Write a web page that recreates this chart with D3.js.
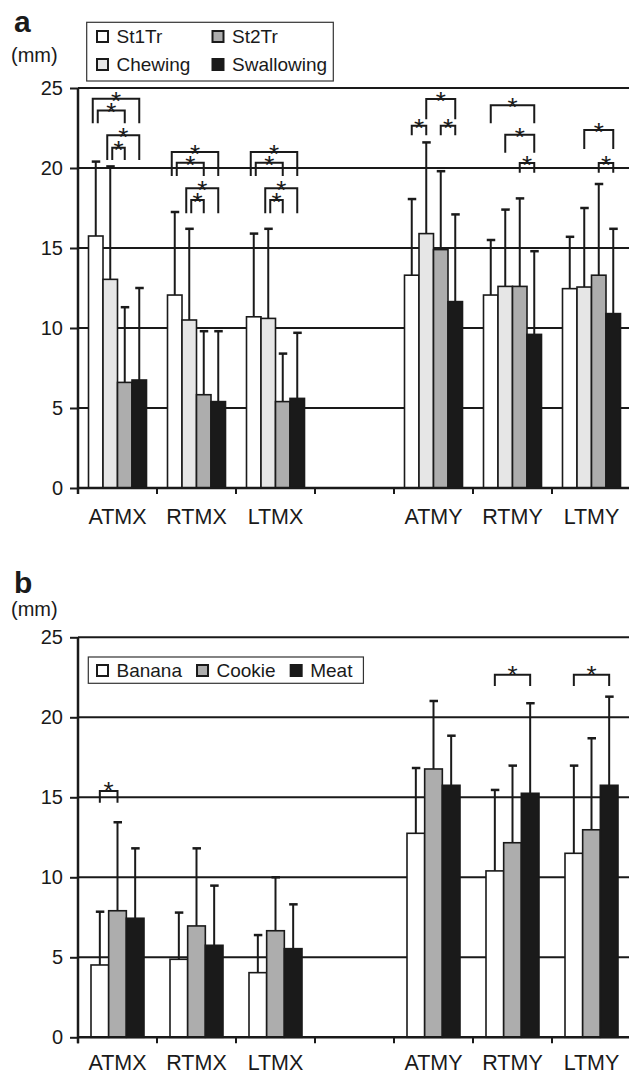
<!DOCTYPE html>
<html>
<head>
<meta charset="utf-8">
<script src="https://cdnjs.cloudflare.com/ajax/libs/d3/7.8.5/d3.min.js"></script>
<style>
  body { margin: 0; background: #fff; }
  svg text { font-family: "Liberation Sans", Arial, sans-serif; fill: #1a1a1a; }
</style>
</head>
<body>
<script>
// ---- data: panel a (stages) ----
const groups = ["ATMX", "RTMX", "LTMX", "", "ATMY", "RTMY", "LTMY"];
const stages = ["St1Tr", "Chewing", "St2Tr", "Swallowing"];
const st1TrMean = [15.75, 12.06, 10.7, null, 13.3, 12.06, 12.46];
const st1TrSd = [4.65, 5.19, 5.2, null, 4.76, 3.44, 3.24];
const chewingMean = [13.04, 10.5, 10.6, null, 15.9, 12.6, 12.56];
const chewingSd = [7.06, 5.7, 5.6, null, 5.7, 4.8, 4.94];
const st2TrMean = [6.6, 5.83, 5.4, null, 14.9, 12.6, 13.3];
const st2TrSd = [4.7, 3.97, 3.0, null, 4.9, 5.5, 5.7];
const swallowingMean = [6.75, 5.4, 5.6, null, 11.65, 9.6, 10.9];
const swallowingSd = [5.75, 4.4, 4.1, null, 5.45, 5.2, 5.3];
// significance: [group, from, to, bracket level, leg end] (mm)
const sigA = [
  ["ATMX", "St1Tr", "Swallowing", 24.33, 22.8],
  ["ATMX", "St1Tr", "St2Tr", 23.6, 22.8],
  ["ATMX", "Chewing", "Swallowing", 22.04, 20.5],
  ["ATMX", "Chewing", "St2Tr", 21.27, 20.5],
  ["RTMX", "St1Tr", "Swallowing", 21.0, 19.5],
  ["RTMX", "St1Tr", "St2Tr", 20.33, 19.5],
  ["RTMX", "Chewing", "Swallowing", 18.73, 17.17],
  ["RTMX", "Chewing", "St2Tr", 18.0, 17.17],
  ["LTMX", "St1Tr", "Swallowing", 21.0, 19.5],
  ["LTMX", "St1Tr", "St2Tr", 20.33, 19.5],
  ["LTMX", "Chewing", "Swallowing", 18.73, 17.17],
  ["LTMX", "Chewing", "St2Tr", 18.0, 17.17],
  ["ATMY", "Chewing", "Swallowing", 24.31, 23.04],
  ["ATMY", "St1Tr", "Chewing", 22.64, 22.04],
  ["ATMY", "St2Tr", "Swallowing", 22.64, 22.04],
  ["RTMY", "St1Tr", "Swallowing", 23.92, 22.8],
  ["RTMY", "Chewing", "Swallowing", 22.08, 20.96],
  ["RTMY", "St2Tr", "Swallowing", 20.31, 19.7],
  ["LTMY", "Chewing", "Swallowing", 22.375, 21.19],
  ["LTMY", "St2Tr", "Swallowing", 20.31, 19.7]
];

// ---- data: panel b (foods) ----
const foods = ["Banana", "Cookie", "Meat"];
const bananaMean = [4.52, 4.875, 4.04, null, 12.75, 10.4, 11.5];
const bananaSd = [3.33, 2.92, 2.35, null, 4.08, 5.06, 5.48];
const cookieMean = [7.91, 6.96, 6.66, null, 16.77, 12.16, 12.97];
const cookieSd = [5.53, 4.85, 3.34, null, 4.25, 4.82, 5.72];
const meatMean = [7.44, 5.75, 5.54, null, 15.75, 15.25, 15.75];
const meatSd = [4.37, 3.73, 2.77, null, 3.1, 5.63, 5.54];
const sigB = [
  ["ATMX", "Banana", "Cookie", 15.39, 14.66],
  ["RTMY", "Banana", "Meat", 22.66, 21.96],
  ["LTMY", "Banana", "Meat", 22.66, 21.96]
];

const yTicks = [0, 5, 10, 15, 20, 25];

const svg = d3.select("body").append("svg")
  .attr("width", 629)
  .attr("height", 1075);

function drawPanel(p) {
  const g = svg.append("g");
  const left = 78, right = 631;

  const y = d3.scaleLinear().domain([0, 25]).range([p.zeroY, p.zeroY - 400]);
  const x0 = d3.scaleBand().domain(groups).range([left, right]);
  const x1 = d3.scaleBand().domain(p.series).range([p.pad, x0.bandwidth() - p.pad]);
  const color = d3.scaleOrdinal().domain(p.series).range(p.colors);
  const cx = (grp, s) => x0(grp) + x1(s) + x1.bandwidth() / 2;

  // panel letter and unit
  g.append("text").attr("x", 14).attr("y", p.letterY)
    .attr("font-size", 30).attr("font-weight", "bold").text(p.letter);
  g.append("text").attr("x", 11).attr("y", p.unitY)
    .attr("font-size", 20).text("(mm)");

  // gridlines
  g.selectAll(".grid").data(yTicks.filter(d => d > 0)).enter().append("line")
    .attr("x1", left).attr("x2", 629)
    .attr("y1", d => y(d)).attr("y2", d => y(d))
    .attr("stroke", "#1a1a1a").attr("stroke-width", 2);

  // y axis
  const yAxis = g.append("g").attr("transform", `translate(${left},0)`)
    .call(d3.axisLeft(y).tickValues(yTicks).tickSize(8).tickPadding(7));
  yAxis.select(".domain").remove();
  yAxis.selectAll("line").attr("stroke", "#1a1a1a").attr("stroke-width", 2);
  yAxis.selectAll("text").attr("font-size", 20).attr("fill", "#1a1a1a")
    .style("font-family", "'Liberation Sans', Arial, sans-serif");
  g.append("line").attr("x1", left).attr("x2", left)
    .attr("y1", y(25)).attr("y2", y(0) + 6)
    .attr("stroke", "#1a1a1a").attr("stroke-width", 2.5);

  // rows of values
  const rows = [];
  p.series.forEach((s, si) => {
    groups.forEach((grp, gi) => {
      if (p.means[si][gi] != null) rows.push({ grp, s, mean: p.means[si][gi], sd: p.sds[si][gi] });
    });
  });

  // error bars
  const err = g.append("g");
  err.selectAll("line.whisker").data(rows).enter().append("line")
    .attr("class", "whisker")
    .attr("x1", d => cx(d.grp, d.s)).attr("x2", d => cx(d.grp, d.s))
    .attr("y1", d => y(d.mean)).attr("y2", d => y(d.mean + d.sd))
    .attr("stroke", "#1a1a1a").attr("stroke-width", 2);
  err.selectAll("line.cap").data(rows).enter().append("line")
    .attr("class", "cap")
    .attr("x1", d => cx(d.grp, d.s) - 4).attr("x2", d => cx(d.grp, d.s) + 4.5)
    .attr("y1", d => y(d.mean + d.sd)).attr("y2", d => y(d.mean + d.sd))
    .attr("stroke", "#1a1a1a").attr("stroke-width", 2.5);

  // bars
  g.selectAll("rect.bar").data(rows).enter().append("rect")
    .attr("class", "bar")
    .attr("x", d => x0(d.grp) + x1(d.s))
    .attr("y", d => y(d.mean))
    .attr("width", x1.bandwidth())
    .attr("height", d => y(0) - y(d.mean))
    .attr("fill", d => color(d.s))
    .attr("stroke", "#1a1a1a").attr("stroke-width", 1.6);

  // x axis
  g.append("line").attr("x1", left).attr("x2", 629)
    .attr("y1", y(0)).attr("y2", y(0))
    .attr("stroke", "#1a1a1a").attr("stroke-width", 2.5);
  const bounds = groups.map(d => x0(d)).concat([right]);
  g.selectAll(".xtick").data(bounds).enter().append("line")
    .attr("x1", d => d).attr("x2", d => d)
    .attr("y1", y(0)).attr("y2", y(0) + 6)
    .attr("stroke", "#1a1a1a").attr("stroke-width", 2);
  g.selectAll(".xlab").data(groups.filter(d => d)).enter().append("text")
    .attr("x", d => x0(d) + x0.bandwidth() / 2)
    .attr("y", y(0) + p.labelOffset)
    .attr("text-anchor", "middle")
    .attr("font-size", 21.5)
    .text(d => d);

  // significance brackets
  const sig = p.sig.map(([grp, a, b, level, leg]) => ({ grp, a, b, level, leg }));
  sig.forEach(d => {
    const shared = sig.filter(o => o !== d && o.grp === d.grp && o.a === d.a);
    let dx = 0;
    if (shared.length) {
      const span = p.series.indexOf(d.b);
      dx = shared.some(o => p.series.indexOf(o.b) > span) ? 2 : -3;
    }
    d.xa = cx(d.grp, d.a) + dx;
    d.xb = cx(d.grp, d.b);
  });
  g.selectAll("path.sig").data(sig).enter().append("path")
    .attr("class", "sig")
    .attr("d", d => `M${d.xa},${y(d.leg)}V${y(d.level)}H${d.xb}V${y(d.leg)}`)
    .attr("fill", "none").attr("stroke", "#1a1a1a").attr("stroke-width", 2);
  g.selectAll("text.star").data(sig).enter().append("text")
    .attr("class", "star")
    .attr("x", d => (d.xa + d.xb) / 2)
    .attr("y", d => y(d.level) + p.starDy)
    .attr("text-anchor", "middle")
    .attr("font-size", 26)
    .text("*");

  // legend
  const lg = g.append("g");
  const box = lg.append("rect")
    .attr("fill", "#fff").attr("stroke", "#333").attr("stroke-width", 1.2);
  const items = lg.selectAll(".item").data(p.series).enter().append("g");
  items.append("rect")
    .attr("width", 11).attr("height", 11)
    .attr("fill", d => color(d))
    .attr("stroke", "#1a1a1a").attr("stroke-width", 2);
  items.append("text")
    .attr("x", 19.5).attr("y", 11.5)
    .attr("font-size", 19).text(d => d);
  p.placeLegend(items, box);
}

drawPanel({
  letter: "a",
  letterY: 32,
  unitY: 62,
  zeroY: 488,
  labelOffset: 36,
  starDy: 11,
  pad: 10.5,
  series: stages,
  colors: ["#ffffff", "#e6e6e6", "#adadad", "#1a1a1a"],
  means: [st1TrMean, chewingMean, st2TrMean, swallowingMean],
  sds: [st1TrSd, chewingSd, st2TrSd, swallowingSd],
  sig: sigA,
  placeLegend(items, box) {
    // 2 x 2: St1Tr, Chewing on the left; St2Tr, Swallowing on the right
    const col = { St1Tr: 0, Chewing: 0, St2Tr: 1, Swallowing: 1 };
    const row = { St1Tr: 0, Chewing: 1, St2Tr: 0, Swallowing: 1 };
    items.attr("transform", d => `translate(${97 + col[d] * 115.5},${31 + row[d] * 28})`);
    box.attr("x", 86.7).attr("y", 22.3).attr("width", 246.6).attr("height", 58.7);
  }
});

drawPanel({
  letter: "b",
  letterY: 593,
  unitY: 616,
  zeroY: 1037.3,
  labelOffset: 33,
  starDy: 9,
  pad: 13,
  series: foods,
  colors: ["#ffffff", "#adadad", "#1a1a1a"],
  means: [bananaMean, cookieMean, meatMean],
  sds: [bananaSd, cookieSd, meatSd],
  sig: sigB,
  placeLegend(items, box) {
    let x = 97;
    items.each(function () {
      d3.select(this).attr("transform", `translate(${x},665)`);
      x += 19.5 + d3.select(this).select("text").node().getComputedTextLength() + 15;
    });
    box.attr("x", 88.3).attr("y", 657).attr("width", x - 15 + 11 - 88.3).attr("height", 26.3);
  }
});
</script>
</body>
</html>
